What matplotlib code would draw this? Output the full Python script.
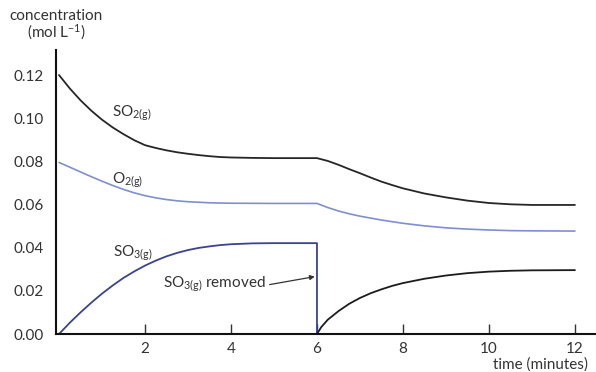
import matplotlib
matplotlib.use("Agg")
import matplotlib.pyplot as plt

plt.rcParams['font.family'] = ['Lato', 'DejaVu Sans']
plt.rcParams['mathtext.default'] = 'regular'

# time (minutes) and concentrations (mol/L)
so2_t = [0, 0.25, 0.5, 0.75, 1.0, 1.25, 1.5, 1.75, 2.0, 2.25, 2.5, 2.75, 3.0, 3.25,
         3.5, 3.75, 4.0, 4.5, 5.0, 6.0, 6.25, 6.5, 6.75, 7.0, 7.25, 7.5, 7.75, 8.0,
         8.5, 9.0, 9.5, 10.0, 10.5, 11.0, 12.0]
so2_c = [0.1200, 0.1138, 0.1083, 0.1035, 0.0993, 0.0957, 0.0926, 0.0898, 0.0875,
         0.0862, 0.0851, 0.0842, 0.0835, 0.0829, 0.0824, 0.0820, 0.0818, 0.0816,
         0.0815, 0.0815, 0.0802, 0.0784, 0.0764, 0.0745, 0.0725, 0.0706, 0.0690,
         0.0675, 0.0651, 0.0633, 0.0618, 0.0607, 0.0601, 0.0598, 0.0598]

o2_t = [0, 0.25, 0.5, 0.75, 1.0, 1.25, 1.5, 1.75, 2.0, 2.25, 2.5, 2.75, 3.0, 3.5,
        4.0, 5.0, 6.0, 6.25, 6.5, 6.75, 7.0, 7.5, 8.0, 8.5, 9.0, 9.5, 10.0, 10.5,
        11.0, 12.0]
o2_c = [0.0795, 0.0773, 0.0751, 0.0729, 0.0708, 0.0688, 0.0670, 0.0654, 0.0641,
        0.0631, 0.0623, 0.0617, 0.0613, 0.0608, 0.0606, 0.0605, 0.0605, 0.0586,
        0.0570, 0.0557, 0.0546, 0.0528, 0.0513, 0.0501, 0.0492, 0.0486, 0.0482,
        0.0479, 0.0478, 0.0477]

# SO3 until it is removed at 6 min (last point is the drop to zero)
so3_t = [0, 0.25, 0.5, 0.75, 1.0, 1.25, 1.5, 1.75, 2.0, 2.25, 2.5, 2.75, 3.0, 3.25,
         3.5, 3.75, 4.0, 4.5, 5.0, 6.0, 6.0]
so3_c = [0, 0.0052, 0.0100, 0.0145, 0.0187, 0.0225, 0.0260, 0.0290, 0.0317, 0.0340,
         0.0360, 0.0376, 0.0389, 0.0399, 0.0406, 0.0412, 0.0416, 0.0420, 0.0421,
         0.0421, 0.0]

# SO3 after removal
so3b_t = [6.0, 6.1, 6.25, 6.5, 6.75, 7.0, 7.25, 7.5, 7.75, 8.0, 8.5, 9.0, 9.5,
          10.0, 10.5, 11.0, 12.0]
so3b_c = [0, 0.0032, 0.0066, 0.0106, 0.0140, 0.0167, 0.0189, 0.0207, 0.0223,
          0.0236, 0.0256, 0.0271, 0.0282, 0.0289, 0.0293, 0.0295, 0.0296]

xticks = [2, 4, 6, 8, 10, 12]
yticks = [0.00, 0.02, 0.04, 0.06, 0.08, 0.10, 0.12]

fig = plt.figure(figsize=(5.96, 3.72), dpi=100)
ax = fig.add_axes([56 / 596, 38 / 372, 540 / 596, 284 / 372])

kw = dict(solid_joinstyle='round', solid_capstyle='round')
ax.plot(so2_t, so2_c, color='#262626', lw=1.3, **kw)
ax.plot(o2_t, o2_c, color='#7f8fd2', lw=1.2, **kw)
ax.plot(so3_t, so3_c, color='#3b438f', lw=1.3, **kw)
ax.plot(so3b_t, so3b_c, color='#1c1c1c', lw=1.3, **kw)

ax.set_xlim(-0.07, 12.49)
ax.set_ylim(0, 0.1316)
ax.set_xticks(xticks)
ax.set_xticklabels([str(t) for t in xticks])
ax.set_yticks(yticks)
ax.set_yticklabels(['%.2f' % v for v in yticks])
ax.tick_params(axis='x', direction='in', length=7, width=1, pad=6, labelsize=11, colors='#333333')
ax.tick_params(axis='y', length=0, pad=9, labelsize=11, colors='#333333')
for s in ['top', 'right']:
    ax.spines[s].set_visible(False)
for s in ['left', 'bottom']:
    ax.spines[s].set_linewidth(1.5)
    ax.spines[s].set_color('#111111')

fs = 11
ax.text(1.23, 0.1022, r'SO$_{2(g)}$', fontsize=fs, va='center', color='#333333')
ax.text(1.23, 0.0713, r'O$_{2(g)}$', fontsize=fs, va='center', color='#333333')
ax.text(1.26, 0.0375, r'SO$_{3(g)}$', fontsize=fs, va='center', color='#333333')
ax.annotate('', xy=(5.95, 0.0266), xytext=(4.9, 0.0229),
            arrowprops=dict(arrowstyle='-|>', color='#333333', lw=0.9,
                            mutation_scale=7, shrinkA=0, shrinkB=0))
ax.text(4.8, 0.0232, r'SO$_{3(g)}$ removed', fontsize=fs, ha='right', va='center',
        color='#333333')

fig.text(56 / 596, 1 - 16 / 372, 'concentration', ha='center', va='center',
         fontsize=fs, color='#333333')
fig.text(56 / 596, 1 - 32 / 372, r'(mol L$^{-1}$)', ha='center', va='center',
         fontsize=fs, color='#333333')
fig.text(588 / 596, 1 - 365 / 372, 'time (minutes)', ha='right', va='center',
         fontsize=fs, color='#333333')

fig.savefig('out.png', dpi=100)
